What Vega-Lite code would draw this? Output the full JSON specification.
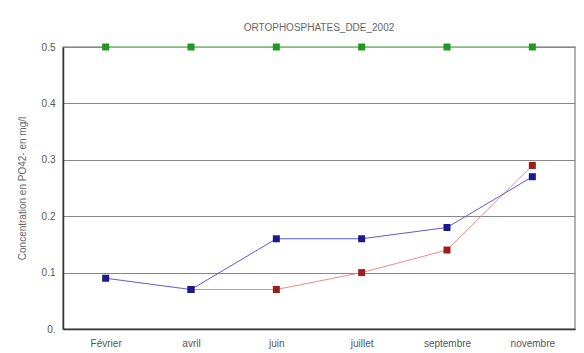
{
  "$schema": "https://vega.github.io/schema/vega-lite/v6.json",
  "width": 512,
  "height": 282,
  "autosize": {"type": "none"},
  "padding": {"left": 63, "top": 47, "right": 9, "bottom": 24},
  "background": "white",
  "config": {
    "font": "Liberation Sans",
    "view": {"stroke": "#999999", "strokeWidth": 1.5},
    "axis": {"labelFont": "Liberation Sans", "titleFont": "Liberation Sans", "labelColor": "#555555", "titleColor": "#666666", "labelFontSize": 10, "titleFontSize": 10, "titleFontWeight": "normal", "ticks": false, "domainColor": "#333333", "domainWidth": 1.5, "labelOverlap": false}
  },
  "title": {"text": "ORTOPHOSPHATES_DDE_2002", "fontSize": 10, "fontWeight": "normal", "color": "#666666", "font": "Liberation Sans", "offset": 9},
  "data": {"values": [
    {"mois": "Février", "serie": "C", "valeur": 0.5},
    {"mois": "avril", "serie": "C", "valeur": 0.5},
    {"mois": "juin", "serie": "C", "valeur": 0.5},
    {"mois": "juillet", "serie": "C", "valeur": 0.5},
    {"mois": "septembre", "serie": "C", "valeur": 0.5},
    {"mois": "novembre", "serie": "C", "valeur": 0.5},
    {"mois": "avril", "serie": "A", "valeur": 0.07},
    {"mois": "juin", "serie": "A", "valeur": 0.07},
    {"mois": "juillet", "serie": "A", "valeur": 0.10},
    {"mois": "septembre", "serie": "A", "valeur": 0.14},
    {"mois": "novembre", "serie": "A", "valeur": 0.29},
    {"mois": "Février", "serie": "B", "valeur": 0.09},
    {"mois": "avril", "serie": "B", "valeur": 0.07},
    {"mois": "juin", "serie": "B", "valeur": 0.16},
    {"mois": "juillet", "serie": "B", "valeur": 0.16},
    {"mois": "septembre", "serie": "B", "valeur": 0.18},
    {"mois": "novembre", "serie": "B", "valeur": 0.27}
  ]},
  "encoding": {
    "x": {"field": "mois", "type": "ordinal", "sort": ["Février", "avril", "juin", "juillet", "septembre", "novembre"],
      "scale": {"type": "point", "padding": 0.5},
      "axis": {"title": null, "labelAngle": 0, "labelPadding": 9, "grid": false}},
    "y": {"field": "valeur", "type": "quantitative", "scale": {"domain": [0, 0.5], "nice": false},
      "axis": {"title": "Concentration en PO42- en mg/l", "values": [0, 0.1, 0.2, 0.3, 0.4, 0.5], "labelExpr": "datum.value == 0 ? '0.' : format(datum.value, '.1f')", "labelPadding": 8, "titlePadding": 14, "gridColor": "#888888", "gridWidth": 1, "gridOpacity": 1}}
  },
  "layer": [
    {"mark": {"type": "line", "strokeWidth": 1},
     "encoding": {"color": {"field": "serie", "type": "nominal", "legend": null,
        "scale": {"domain": ["A", "B", "C"], "range": ["#f08a8a", "#5a5ae6", "#8ee88e"]}},
        "order": {"field": "serie"}}},
    {"mark": {"type": "point", "shape": "square", "filled": true, "size": 49, "opacity": 1},
     "encoding": {"fill": {"field": "serie", "type": "nominal", "legend": null,
        "scale": {"domain": ["A", "B", "C"], "range": ["#a01c1c", "#1a1a8c", "#1f9a1f"]}},
        "order": {"field": "serie"}}}
  ],
  "resolve": {"scale": {"color": "independent"}}
}
